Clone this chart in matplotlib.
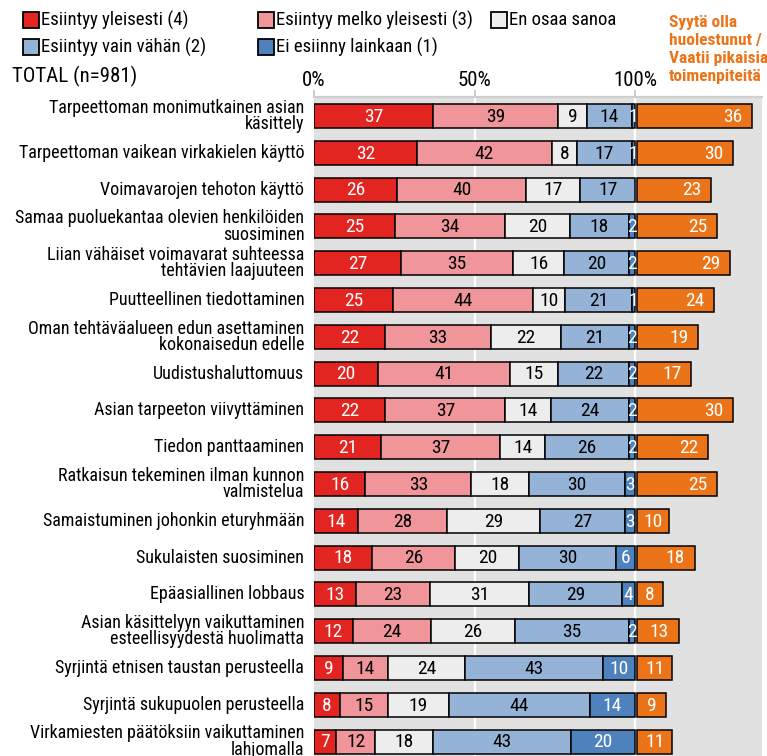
import matplotlib
matplotlib.use("Agg")
import matplotlib.pyplot as plt
from matplotlib.patches import Rectangle
from matplotlib import font_manager

# ---------------- data ----------------
categories = [
    "Tarpeettoman monimutkainen asian\nkäsittely",
    "Tarpeettoman vaikean virkakielen käyttö",
    "Voimavarojen tehoton käyttö",
    "Samaa puoluekantaa olevien henkilöiden\nsuosiminen",
    "Liian vähäiset voimavarat suhteessa\ntehtävien laajuuteen",
    "Puutteellinen tiedottaminen",
    "Oman tehtäväalueen edun asettaminen\nkokonaisedun edelle",
    "Uudistushaluttomuus",
    "Asian tarpeeton viivyttäminen",
    "Tiedon panttaaminen",
    "Ratkaisun tekeminen ilman kunnon\nvalmistelua",
    "Samaistuminen johonkin eturyhmään",
    "Sukulaisten suosiminen",
    "Epäasiallinen lobbaus",
    "Asian käsittelyyn vaikuttaminen\nesteellisyydestä huolimatta",
    "Syrjintä etnisen taustan perusteella",
    "Syrjintä sukupuolen perusteella",
    "Virkamiesten päätöksiin vaikuttaminen\nlahjomalla",
]
often    = [37, 32, 26, 25, 27, 25, 22, 20, 22, 21, 16, 14, 18, 13, 12, 9, 8, 7]
fairly   = [39, 42, 40, 34, 35, 44, 33, 41, 37, 37, 33, 28, 26, 23, 24, 14, 15, 12]
dontknow = [9, 8, 17, 20, 16, 10, 22, 15, 14, 14, 18, 29, 20, 31, 26, 24, 19, 18]
little   = [14, 17, 17, 18, 20, 21, 21, 22, 24, 26, 30, 27, 30, 29, 35, 43, 44, 43]
never    = [1, 1, 0, 2, 2, 1, 2, 2, 2, 2, 3, 3, 6, 4, 2, 10, 14, 20]
concern  = [36, 30, 23, 25, 29, 24, 19, 17, 30, 22, 25, 10, 18, 8, 13, 11, 9, 11]

series_names = ["Esiintyy yleisesti (4)", "Esiintyy melko yleisesti (3)", "En osaa sanoa",
                "Esiintyy vain vähän (2)", "Ei esiinny lainkaan (1)"]
tick_labels = ["0%", "50%", "100%"]
total_label = "TOTAL (n=981)"
concern_title = ["Syytä olla", "huolestunut /", "Vaatii pikaisia", "toimenpiteitä"]

# ---------------- style ----------------
names = {f.name for f in font_manager.fontManager.ttflist}
fams = [f for f in ("Roboto Condensed", "Open Sans Condensed", "PT Sans Narrow") if f in names]
plt.rcParams["font.family"] = fams + ["DejaVu Sans"]

colors = ["#e32522", "#f0969b", "#ededed", "#95b3d7", "#4f81bd"]
label_colors = ["white", "black", "black", "black", "white"]
orange = "#ec7418"

W, H = 767, 756
fig = plt.figure(figsize=(W / 100, H / 100), dpi=100)
ax = fig.add_axes([314 / W, 0, (762 - 314) / W, (756 - 97) / H])

def fx(px):
    return px / W

def fy(py):
    return 1 - py / H

n = len(categories)
ys = list(range(n))
bh = 0.65
series = [often, fairly, dontknow, little, never]

for i in ys:
    vals = [s[i] for s in series]
    tot = sum(vals)
    left = 0.0
    for k, v in enumerate(vals):
        w = v * 100.0 / tot
        if v > 0:
            ax.barh(i, w, left=left, height=bh, color=colors[k], edgecolor="black",
                    linewidth=1.1, zorder=3)
            ax.text(left + w / 2, i + 0.02, str(v), ha="center", va="center",
                    fontsize=14, color=label_colors[k], zorder=4)
        left += w
    # concern bar
    c0 = 100.6
    cv = concern[i]
    ax.barh(i, cv, left=c0, height=bh, color=orange, edgecolor="black",
            linewidth=1.1, zorder=3)
    lx = max(c0 + cv / 2, c0 + cv - 6)
    ax.text(lx, i + 0.02, str(cv), ha="center", va="center", fontsize=14,
            color="white", zorder=4)
    # category label
    ax.text(-3, i, categories[i], ha="right", va="center", fontsize=13,
            linespacing=0.88, color="black")

ax.set_facecolor("#e1e1e1")
for gx in (50, 100):
    ax.axvline(gx, color="white", lw=1.6, zorder=1)

ax.set_xlim(0, (762 - 314) / 3.21)
ax.set_ylim((756 - 116) / 36.8, (97 - 116) / 36.8)
ax.xaxis.tick_top()
ax.set_xticks([0, 50, 100])
ax.set_xticklabels(tick_labels, fontsize=15)
ax.tick_params(axis="x", length=5, color="#c4c4c4", width=1.2, pad=0)
ax.set_yticks([])
for sp in ("left", "right", "bottom"):
    ax.spines[sp].set_visible(False)
ax.spines["top"].set_color("#cfcfcf")
ax.spines["top"].set_linewidth(1.6)

# legend
leg_pos = [(23, 20), (258, 20), (491, 20), (23, 47), (258, 47)]
for k, (px, py) in enumerate(leg_pos):
    fig.add_artist(Rectangle((fx(px), fy(py + 8)), 16 / W, 16 / H, transform=fig.transFigure,
                             facecolor=colors[k], edgecolor="black", lw=1.3))
    fig.text(fx(px + 18), fy(py), series_names[k], fontsize=13.5, va="center", ha="left")

fig.text(fx(12), fy(76), total_label, fontsize=15, va="center", ha="left")

for line, py in zip(concern_title, [22, 40, 58, 77]):
    fig.text(fx(669), fy(py), line, fontsize=12.5, fontweight="bold", color=orange,
             va="center", ha="left")

fig.savefig("out.png", dpi=100)
